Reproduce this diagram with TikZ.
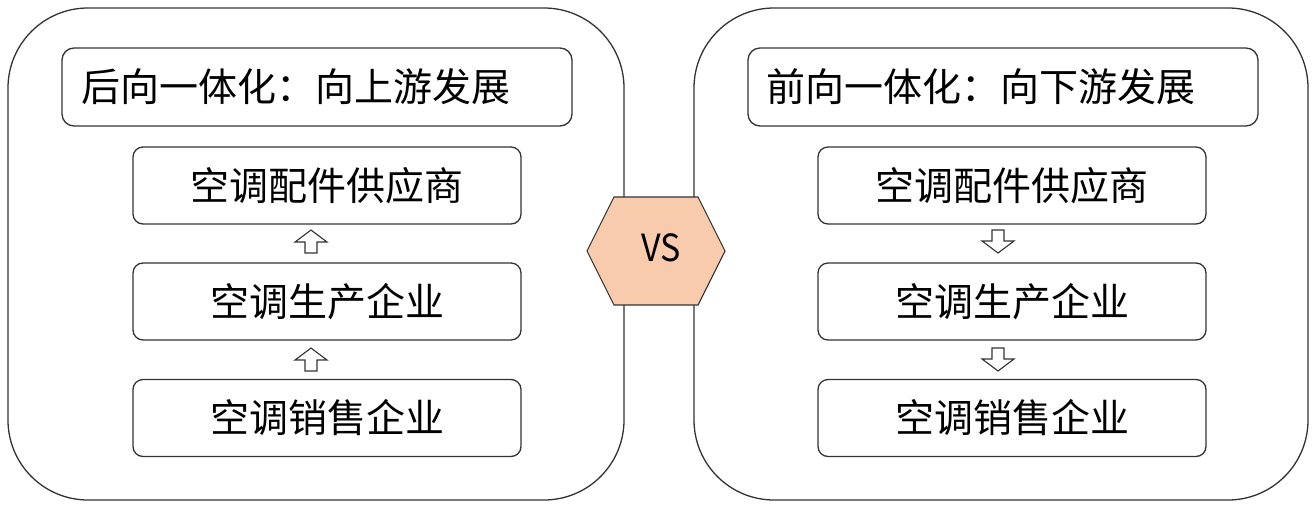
\documentclass[tikz,border=0pt]{standalone}
\usepackage{fontspec}
\newfontfamily\cjk{Noto Sans CJK SC}
\definecolor{hexfill}{HTML}{F8CBAD}
\definecolor{linegray}{HTML}{333333}
\begin{document}
\begin{tikzpicture}[x=1pt,y=-1pt,
  outerbox/.style={draw=linegray,line width=1.3pt,rounded corners=80pt},
  titlebox/.style={draw=linegray,line width=1.3pt,rounded corners=12pt},
  itembox/.style={draw=linegray,line width=1.3pt,rounded corners=10pt,minimum width=388pt,minimum height=77pt,inner sep=0pt,font=\cjk\fontsize{39}{41}\selectfont},
  titletext/.style={anchor=west,inner sep=0pt,font=\cjk\fontsize{39}{41}\selectfont},
  blockarrow/.style={draw=linegray,line width=1.1pt,fill=white,line join=miter}
]
\useasboundingbox (0,0) rectangle (1315,504);
% outer frames
\draw[outerbox] (8,8) rectangle (624,500);
\draw[outerbox] (694,8) rectangle (1308,500);
% title boxes
\draw[titlebox] (62,48) rectangle (572,126);
\draw[titlebox] (748,48) rectangle (1258,126);
\node[titletext] (tl) at (81,87) {后向一体化：向上游发展};
\node[titletext] (tr) at (766,87) {前向一体化：向下游发展};
% left column
\node[itembox] (l1) at (327,185.5) {空调配件供应商};
\node[itembox] (l2) at (327,301.5) {空调生产企业};
\node[itembox] (l3) at (327,418) {空调销售企业};
% right column
\node[itembox] (r1) at (1012,185.5) {空调配件供应商};
\node[itembox] (r2) at (1012,301.5) {空调生产企业};
\node[itembox] (r3) at (1012,418) {空调销售企业};
% up arrows (left)
\coordinate (ua1) at (311,230);
\coordinate (ua2) at (311,348);
\foreach \c in {ua1,ua2}{
  \draw[blockarrow] (\c) -- ++(16,12) -- ++(-10,0) -- ++(0,11) -- ++(-12,0) -- ++(0,-11) -- ++(-10,0) -- cycle;
}
% down arrows (right)
\coordinate (da1) at (998,253);
\coordinate (da2) at (998,371);
\foreach \c in {da1,da2}{
  \draw[blockarrow] (\c) -- ++(16,-12) -- ++(-10,0) -- ++(0,-11) -- ++(-12,0) -- ++(0,11) -- ++(-10,0) -- cycle;
}
% VS hexagon
\draw[draw=linegray,line width=1.1pt,fill=hexfill,line join=miter] (587,251) -- (614,197) -- (698,197) -- (725,251) -- (698,305) -- (614,305) -- cycle;
\node[font=\cjk\fontsize{34}{36}\selectfont,inner sep=0pt,yscale=1.1] (vs) at (661,248) {VS};
\end{tikzpicture}
\end{document}
